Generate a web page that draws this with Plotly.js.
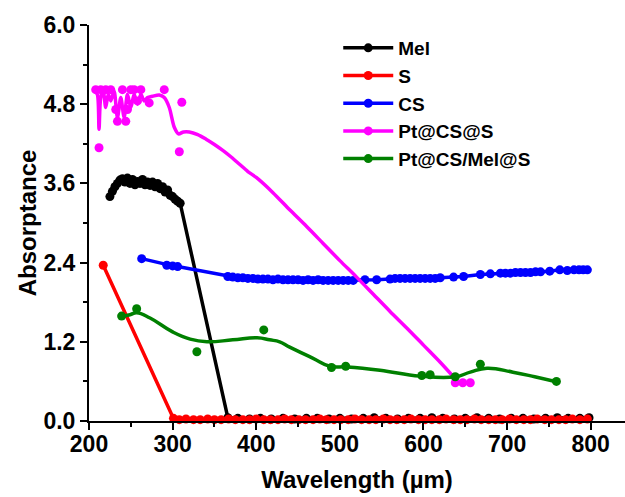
<!DOCTYPE html>
<html>
<head>
<meta charset="utf-8">
<script src="https://cdn.plot.ly/plotly-3.0.1.min.js"></script>
<style>
  html, body { margin: 0; padding: 0; background: #fff; }
  #chart { width: 625px; height: 497px; }
</style>
</head>
<body>
<div id="chart"></div>
<script>
// Absorptance spectra of the samples (wavelength in µm as labelled on the axis)

// Mel
const melX = [225, 228, 231, 234, 237, 240, 243, 246, 249, 252, 255, 258, 261, 264, 267, 270, 273, 276, 279, 282, 285, 288, 291, 294, 297, 300, 303, 306, 309,
  366, 378, 392, 405, 418, 432, 446, 460, 473, 487, 500, 514, 528, 541, 555, 569, 582, 596, 610, 623, 637, 650, 664, 678, 691, 705, 719, 732, 746, 760, 773, 787, 798];
const melY = [3.40, 3.48, 3.55, 3.60, 3.65, 3.67, 3.62, 3.68, 3.60, 3.66, 3.58, 3.63, 3.60, 3.66, 3.58, 3.62, 3.57, 3.62, 3.55, 3.60, 3.52, 3.55, 3.47, 3.50, 3.42, 3.40, 3.36, 3.33, 3.30,
  0.05, 0.04, 0.03, 0.04, 0.03, 0.04, 0.03, 0.04, 0.04, 0.03, 0.04, 0.03, 0.04, 0.05, 0.04, 0.03, 0.04, 0.04, 0.05, 0.04, 0.03, 0.04, 0.05, 0.04, 0.03, 0.04, 0.04, 0.03, 0.04, 0.05, 0.04, 0.04, 0.05];

// S
const sX = [217, 301, 308, 316, 325, 333, 342, 350, 358, 367, 375, 384, 392, 400, 409, 417, 426, 434, 442, 451, 459, 468, 476, 484, 493, 501, 510, 518, 526, 535,
  543, 552, 560, 568, 577, 585, 594, 602, 610, 619, 627, 636, 644, 652, 661, 669, 678, 686, 694, 703, 711, 720, 728, 736, 745, 753, 762, 770, 778, 787, 796];
const sY = [2.36, 0.04, 0.02, 0.03, 0.02, 0.02, 0.03, 0.02, 0.02, 0.03, 0.02, 0.02, 0.02, 0.03, 0.02, 0.02, 0.02, 0.03, 0.02, 0.02, 0.02, 0.02, 0.03, 0.02, 0.02, 0.02, 0.02, 0.03, 0.02, 0.02,
  0.02, 0.03, 0.02, 0.02, 0.02, 0.03, 0.02, 0.02, 0.02, 0.02, 0.03, 0.02, 0.02, 0.02, 0.03, 0.02, 0.02, 0.02, 0.02, 0.03, 0.02, 0.02, 0.02, 0.03, 0.02, 0.02, 0.02, 0.02, 0.03, 0.02, 0.03];

// CS
const csX = [263, 293, 300, 306, 366, 372, 378, 384, 390, 396, 402, 408, 414, 420, 426, 432, 438, 444, 450, 456, 462, 468, 474, 480, 486, 492, 498, 504, 510, 516,
  530, 544, 560, 566, 572, 578, 584, 590, 596, 602, 608, 614, 620, 636, 648, 668, 680, 692, 698, 704, 710, 716, 722, 728, 734, 740, 751, 763, 772, 780, 786, 791, 796];
const csY = [2.46, 2.36, 2.35, 2.34, 2.19, 2.18, 2.17, 2.17, 2.16, 2.16, 2.15, 2.15, 2.15, 2.14, 2.15, 2.14, 2.14, 2.14, 2.14, 2.13, 2.14, 2.13, 2.14, 2.13, 2.13, 2.13, 2.13, 2.13, 2.13, 2.13,
  2.14, 2.14, 2.15, 2.16, 2.16, 2.16, 2.16, 2.16, 2.16, 2.16, 2.16, 2.16, 2.17, 2.18, 2.19, 2.22, 2.23, 2.24, 2.24, 2.24, 2.25, 2.25, 2.25, 2.25, 2.26, 2.26, 2.27, 2.29, 2.28, 2.29, 2.29, 2.29, 2.29];

// Pt@CS@S: measured points and the smoothed curve through them
const ptPointX = [208, 212, 214, 220, 226, 232, 234, 240, 244, 246, 250, 254, 258, 262, 272, 290, 308, 311, 638, 647, 656];
const ptPointY = [5.02, 4.14, 5.02, 5.02, 5.02, 4.72, 4.54, 5.02, 4.54, 4.72, 5.02, 5.02, 4.85, 5.02, 4.82, 5.02, 4.08, 4.83, 0.58, 0.58, 0.58];
const ptCurveX = [207, 210, 212, 214, 217, 220, 223, 226, 230, 234, 238, 242, 246, 250, 254, 258, 262, 266, 270, 276, 284, 290, 296, 302, 307, 313, 320,
  330, 340, 350, 360, 370, 380, 390, 400, 420, 440, 460, 480, 500, 520, 540, 560, 580, 600, 620, 638];
const ptCurveY = [5.00, 4.95, 4.42, 4.90, 5.00, 4.75, 4.95, 4.85, 5.00, 4.60, 4.90, 4.60, 4.95, 4.75, 4.95, 4.80, 4.95, 4.85, 4.90, 4.92, 4.94, 4.90, 4.75, 4.45, 4.35, 4.38, 4.38,
  4.34, 4.27, 4.19, 4.10, 4.00, 3.89, 3.78, 3.69, 3.46, 3.20, 2.95, 2.69, 2.43, 2.18, 1.92, 1.66, 1.41, 1.15, 0.89, 0.64];

// Pt@CS/Mel@S: measured points and the smoothed curve through them
const pmPointX = [239, 257, 329, 409, 490, 507, 598, 608, 638, 668, 759];
const pmPointY = [1.59, 1.70, 1.05, 1.38, 0.81, 0.83, 0.69, 0.70, 0.67, 0.86, 0.60];
const pmCurveX = [237, 249, 257, 273, 300, 321, 341, 372, 401, 416, 428, 440, 468, 488, 509, 548, 596, 638, 656, 676, 707, 733, 760];
const pmCurveY = [1.58, 1.61, 1.64, 1.56, 1.35, 1.24, 1.20, 1.23, 1.26, 1.23, 1.20, 1.12, 0.95, 0.83, 0.82, 0.77, 0.68, 0.67, 0.74, 0.80, 0.74, 0.67, 0.59];

const names = ['Mel', 'S', 'CS', 'Pt@CS@S', 'Pt@CS/Mel@S'];
const colors = ['#000000', '#ff0000', '#0000ff', '#ff00ff', '#008000'];

const LW = 3.5, MS = 9;
const FONT = 'Liberation Sans, Arial, Helvetica, sans-serif';

function full(x, y, i) {
  return {
    x: x, y: y, name: names[i], type: 'scatter', mode: 'lines+markers',
    line: {color: colors[i], width: LW},
    marker: {color: colors[i], size: MS},
    cliponaxis: false
  };
}
function legendOnly(i) {
  return {
    x: [null], y: [null], name: names[i], type: 'scatter', mode: 'lines+markers',
    line: {color: colors[i], width: LW},
    marker: {color: colors[i], size: MS}
  };
}
function curve(x, y, i, smooth) {
  return {
    x: x, y: y, type: 'scatter', mode: 'lines', showlegend: false, hoverinfo: 'skip',
    line: {color: colors[i], width: LW, shape: 'spline', smoothing: smooth},
    cliponaxis: false
  };
}
function points(x, y, i) {
  return {
    x: x, y: y, type: 'scatter', mode: 'markers', showlegend: false,
    marker: {color: colors[i], size: MS},
    cliponaxis: false
  };
}

const data = [
  full(melX, melY, 0),
  full(sX, sY, 1),
  full(csX, csY, 2),
  legendOnly(3), curve(ptCurveX, ptCurveY, 3, 0.8), points(ptPointX, ptPointY, 3),
  legendOnly(4), curve(pmCurveX, pmCurveY, 4, 1.3), points(pmPointX, pmPointY, 4)
];

const titleFont = {family: FONT, size: 24, color: '#000', weight: 'bold'};
const axisCommon = {
  showline: true, linecolor: '#000', linewidth: 2,
  ticks: 'outside', ticklen: 7, tickwidth: 2, tickcolor: '#000',
  showgrid: false, zeroline: false, mirror: false,
  tickfont: {family: FONT, size: 23, color: '#000', weight: 'bold'}
};

const layout = {
  width: 625, height: 497,
  margin: {l: 89, r: 0, t: 25, b: 76},
  paper_bgcolor: '#fff', plot_bgcolor: '#fff',
  showlegend: true,
  legend: {
    x: 0.465, y: 0.99, xanchor: 'left', yanchor: 'top',
    bgcolor: 'rgba(0,0,0,0)', borderwidth: 0,
    font: {family: FONT, size: 19, color: '#000', weight: 'bold'},
    itemwidth: 50, traceorder: 'normal'
  },
  xaxis: Object.assign({}, axisCommon, {
    range: [200, 841], tick0: 200, dtick: 100,
    ticklabelstandoff: -6,
    minor: {dtick: 50, ticks: 'outside', ticklen: 4, tickwidth: 2, tickcolor: '#000'},
    title: {text: 'Wavelength (µm)', standoff: 16, font: titleFont}
  }),
  yaxis: Object.assign({}, axisCommon, {
    range: [0, 6], tick0: 0, dtick: 1.2, tickformat: '.1f',
    minor: {dtick: 0.6, ticks: 'outside', ticklen: 4, tickwidth: 2, tickcolor: '#000'},
    title: {text: 'Absorptance', standoff: 0, font: titleFont}
  })
};

Plotly.newPlot('chart', data, layout, {displayModeBar: false, responsive: false});
</script>
</body>
</html>
